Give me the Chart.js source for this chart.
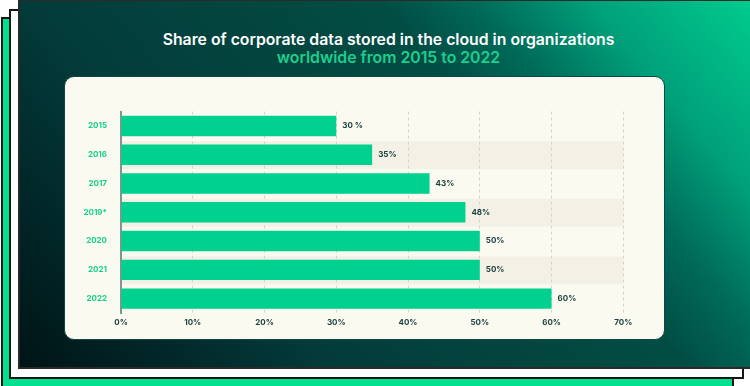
<!DOCTYPE html>
<html><head><meta charset="utf-8">
<script src="https://cdn.jsdelivr.net/npm/chart.js@4"></script>
<style>
html,body{margin:0;padding:0;width:750px;height:386px;overflow:hidden;background:#fff;}
.p{position:absolute;box-sizing:border-box;}
#green{left:1px;top:17px;width:733px;height:390px;background:#00e08f;border:2px solid #161616;}
#white{left:9px;top:9px;width:735px;height:370px;background:#fff;border:2px solid #161616;}
#dark{left:18px;top:-1px;width:740px;height:370px;border:2px solid #2a2a2a;
  background:linear-gradient(50deg,#001416 0%,#033b3b 30%,#03473f 52%,#014d44 64%,#006a58 73%,#00a07a 84%,#00cd8e 100%);}
#card{left:64px;top:76px;width:601px;height:264px;background:#fbfaf1;border:1.5px solid #0d4745;border-radius:10px;}
.t{position:absolute;left:23px;width:731px;text-align:center;font-family:Inter,sans-serif;font-weight:600;font-size:15.8px;line-height:18px;white-space:nowrap;}
#t1{top:31px;color:#ffffff;}
#t2{top:49px;color:#1dcf8d;}
canvas{position:absolute;left:0;top:0;}
</style></head>
<body>
<div class="p" id="green"></div>
<div class="p" id="white"></div>
<div class="p" id="dark"></div>
<div class="p" id="card"></div>
<div class="t" id="t1">Share of corporate data stored in the cloud in organizations</div>
<div class="t" id="t2">worldwide from 2015 to 2022</div>
<canvas id="c" width="750" height="386"></canvas>
<script>
const categories = ["2015","2016","2017","2019*","2020","2021","2022"];
const shares = [30,35,43,48,50,50,60];
const valueLabels = ["30 %","35%","43%","48%","50%","50%","60%"];
const xMin = 0, xMax = 70, xStep = 10;
const bandRows = [1,3,5];

const bandPlugin = {
  id:'bands',
  beforeDraw(chart){
    const {ctx, chartArea:a, scales:{y}} = chart;
    const h = a.height / categories.length;
    ctx.save();
    ctx.fillStyle = '#f3f1e5';
    bandRows.forEach(i=>{
      const c = y.getPixelForValue(i);
      ctx.fillRect(a.left, c - h/2 + 1, a.right - a.left, h - 1);
    });
    ctx.restore();
  }
};
const labelPlugin = {
  id:'vlabels',
  afterDatasetsDraw(chart){
    const {ctx} = chart;
    const meta = chart.getDatasetMeta(0);
    ctx.save();
    ctx.font = 'bold 8px Inter, sans-serif';
    ctx.fillStyle = '#173d3d';
    ctx.textBaseline = 'middle';
    ctx.textAlign = 'left';
    meta.data.forEach((bar,i)=>ctx.fillText(valueLabels[i], bar.x + 6, bar.y));
    ctx.restore();
  }
};

new Chart(document.getElementById('c'), {
  type:'bar',
  data:{labels:categories, datasets:[{data:shares, backgroundColor:'#00d18e', borderWidth:0, barPercentage:0.71, categoryPercentage:1}]},
  options:{
    indexAxis:'y', responsive:false, animation:false, devicePixelRatio:1,
    layout:{padding:{left:65, right:126.7, top:111.6, bottom:48}},
    plugins:{legend:{display:false}, tooltip:{enabled:false}, title:{display:false}},
    scales:{
      x:{type:'linear', min:xMin, max:xMax,
        ticks:{stepSize:xStep, callback:v=>v+'%', color:'#1b4242', font:{family:'Inter', weight:'bold', size:8}, padding:5, maxRotation:0},
        grid:{color:'#d4d4cc', lineWidth:1, drawTicks:false},
        border:{display:false, dash:[3,3]},
        afterFit(s){ s.height = 25; }
      },
      y:{type:'category',
        ticks:{color:'#14d08c', font:{family:'Inter', weight:'bold', size:8}, padding:14},
        grid:{display:false, drawTicks:false},
        border:{display:true, color:'#7e9694', width:2},
        afterFit(s){ s.width = 56; }
      }
    }
  },
  plugins:[bandPlugin, labelPlugin]
});
</script>
</body></html>
